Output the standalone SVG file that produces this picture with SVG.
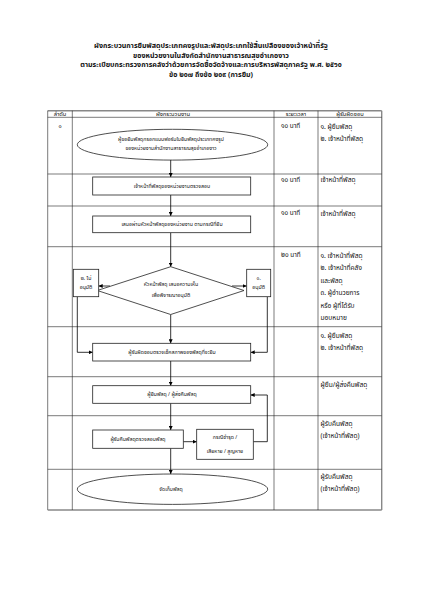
<svg xmlns="http://www.w3.org/2000/svg" width="424" height="600" viewBox="0 0 424 600">
<defs>
<marker id="ah" viewBox="0 0 10 10" refX="10" refY="5" markerWidth="4" markerHeight="4" orient="auto" markerUnits="userSpaceOnUse">
<path d="M0,0 L10,5 L0,10 z" fill="#000"/>
</marker>
<style>
text{font-family:"Noto Sans Thai","Loma","Garuda","Tlwg Typo","DejaVu Sans",sans-serif;fill:#111}
.t{font-size:7.1px;font-weight:bold;text-anchor:middle}
.h{font-size:5.8px;text-anchor:middle}
.f{font-size:5.2px;text-anchor:middle}
.r{font-size:6.6px}
.tm{font-size:6.4px}
.g{fill:none;stroke:#222;stroke-width:0.6}
.ob{fill:none;stroke:#888;stroke-width:1.4}
.sh{fill:#fff;stroke:#222;stroke-width:0.8}
.ca{fill:none;stroke:#000;stroke-width:0.8;marker-end:url(#ah)}
</style>
</defs>
<rect width="424" height="600" fill="#fff"/>
<g id="title">
<text class="t" x="211" y="47.5">ผังกระบวนการยืมพัสดุประเภทคงรูปและพัสดุประเภทใช้สิ้นเปลืองของเจ้าหน้าที่รัฐ</text>
<text class="t" x="211" y="57.5">ของหน่วยงานในสังกัดสำนักงานสาธารณสุขอำเภองาว</text>
<text class="t" x="211" y="67">ตามระเบียบกระทรวงการคลังว่าด้วยการจัดซื้อจัดจ้างและการบริหารพัสดุภาครัฐ พ.ศ. ๒๕๖๐</text>
<text class="t" x="211" y="76.5">ข้อ ๒๐๗ ถึงข้อ ๒๐๙ (การยืม)</text>
</g>
<g id="table">
<line class="ob" x1="47.7" y1="110.7" x2="381.7" y2="110.7"/>
<line class="g" x1="47.7" y1="110.7" x2="47.7" y2="510"/>
<line class="ob" x1="381.7" y1="110.7" x2="381.7" y2="510"/>
<line class="ob" x1="47.7" y1="510" x2="381.7" y2="510"/>
<line class="g" x1="72.3" y1="110.7" x2="72.3" y2="510"/>
<line class="g" x1="274" y1="110.7" x2="274" y2="510"/>
<line class="g" x1="318" y1="110.7" x2="318" y2="510"/>
<line class="g" x1="47.7" y1="117.3" x2="381.7" y2="117.3"/>
<line class="g" x1="47.7" y1="174" x2="381.7" y2="174"/>
<line class="g" x1="47.7" y1="206" x2="381.7" y2="206"/>
<line class="g" x1="47.7" y1="246.7" x2="381.7" y2="246.7"/>
<line class="g" x1="47.7" y1="326.7" x2="381.7" y2="326.7"/>
<line class="g" x1="47.7" y1="376.7" x2="381.7" y2="376.7"/>
<line class="g" x1="47.7" y1="415.7" x2="381.7" y2="415.7"/>
<line class="g" x1="47.7" y1="469.3" x2="381.7" y2="469.3"/>
<text class="h" x="60" y="116">ลำดับ</text>
<text class="h" x="173" y="116">ผังกระบวนงาน</text>
<text class="h" x="296" y="116">ระยะเวลา</text>
<text class="h" x="350" y="116">ผู้รับผิดชอบ</text>
<text class="h" x="60" y="128">๑</text>
<text class="tm" x="281" y="128">๑๐ นาที</text>
<text class="tm" x="281" y="181.5">๑๐ นาที</text>
<text class="tm" x="281" y="215">๑๐ นาที</text>
<text class="tm" x="281" y="257">๒๐ นาที</text>
<text class="r" x="320.5" y="128.5">๑. ผู้ยืมพัสดุ</text>
<text class="r" x="320.5" y="141">๒. เจ้าหน้าที่พัสดุ</text>
<text class="r" x="320.5" y="182">เจ้าหน้าที่พัสดุ</text>
<text class="r" x="320.5" y="215.5">เจ้าหน้าที่พัสดุ</text>
<text class="r" x="320.5" y="257.5">๑. เจ้าหน้าที่พัสดุ</text>
<text class="r" x="320.5" y="270">๒. เจ้าหน้าที่คลัง</text>
<text class="r" x="320.5" y="282.5">และพัสดุ</text>
<text class="r" x="320.5" y="295">๓. ผู้อำนวยการ</text>
<text class="r" x="320.5" y="307.5">หรือ ผู้ที่ได้รับ</text>
<text class="r" x="320.5" y="320">มอบหมาย</text>
<text class="r" x="320.5" y="337.5">๑. ผู้ยืมพัสดุ</text>
<text class="r" x="320.5" y="350">๒. เจ้าหน้าที่พัสดุ</text>
<text class="r" x="320.5" y="386.5">ผู้ยืม/ผู้ส่งคืนพัสดุ</text>
<text class="r" x="320.5" y="425.5">ผู้รับคืนพัสดุ</text>
<text class="r" x="320.5" y="438">(เจ้าหน้าที่พัสดุ)</text>
<text class="r" x="320.5" y="478.5">ผู้รับคืนพัสดุ</text>
<text class="r" x="320.5" y="491">(เจ้าหน้าที่พัสดุ)</text>
</g>
<g id="connectors">
<line class="ca" x1="170.7" y1="160" x2="170.7" y2="177"/>
<line class="ca" x1="170.7" y1="195" x2="170.7" y2="216"/>
<line class="ca" x1="170.7" y1="232.7" x2="170.7" y2="266.7"/>
<line class="ca" x1="110" y1="286" x2="98.7" y2="286"/>
<line class="ca" x1="232" y1="286" x2="246.7" y2="286"/>
<polyline class="ca" points="77.3,296.7 77.3,352.3 92.7,352.3"/>
<polyline class="ca" points="267.3,296.7 267.3,352.3 250.7,352.3"/>
<line class="ca" x1="170.7" y1="314.5" x2="170.7" y2="343.3"/>
<line class="ca" x1="170.7" y1="361" x2="170.7" y2="385.7"/>
<line class="ca" x1="170.7" y1="403.3" x2="170.7" y2="430"/>
<line class="ca" x1="183.3" y1="441.7" x2="196.7" y2="441.7"/>
<polyline class="ca" points="253.3,441.7 267.3,441.7 267.3,395 250.7,395"/>
<line class="ca" x1="170.7" y1="448.3" x2="170.7" y2="474"/>
</g>
<g id="n1">
<ellipse class="sh" cx="172.5" cy="144.7" rx="95.2" ry="15.4"/>
<text class="f" x="171" y="141">ผู้ขอยืมพัสดุกรอกแบบฟอร์มใบยืมพัสดุประเภทคงรูป</text>
<text class="f" x="171" y="150">ของหน่วยงานสำนักงานสาธารณสุขอำเภองาว</text>
</g>
<g id="n2">
<rect class="sh" x="92.7" y="177" width="158" height="18"/>
<text class="f" x="172" y="188">เจ้าหน้าที่พัสดุของหน่วยงานตรวจสอบ</text>
</g>
<g id="n3">
<rect class="sh" x="92.7" y="216" width="158" height="16.7"/>
<text class="f" x="172" y="226">เสนอผ่านหัวหน้าพัสดุของหน่วยงาน ตามกรณีที่ยืม</text>
</g>
<g id="n4">
<polygon class="sh" points="170.7,266.7 244,290.5 170.7,314.5 97.3,290.5"/>
<text class="f" x="171" y="286">หัวหน้าพัสดุ เสนอความเห็น</text>
<text class="f" x="171" y="296.5">เพื่อพิจารณาอนุมัติ</text>
</g>
<g id="n5">
<rect class="sh" x="73.3" y="269.3" width="25.4" height="27.4"/>
<text class="f" x="86" y="280">๒. ไม่</text>
<text class="f" x="86" y="288.5">อนุมัติ</text>
</g>
<g id="n6">
<rect class="sh" x="246.7" y="269.3" width="24" height="27.4"/>
<text class="f" x="258.7" y="280">๑.</text>
<text class="f" x="258.7" y="288.5">อนุมัติ</text>
</g>
<g id="n7">
<rect class="sh" x="92.7" y="343.3" width="158" height="17.7"/>
<text class="f" x="172" y="353.8">ผู้รับผิดชอบตรวจเช็คสภาพของพัสดุที่จะยืม</text>
</g>
<g id="n8">
<rect class="sh" x="92.7" y="385.7" width="158" height="17.6"/>
<text class="f" x="172" y="396.3">ผู้ยืมพัสดุ / ผู้ส่งคืนพัสดุ</text>
</g>
<g id="n9">
<rect class="sh" x="92.7" y="430" width="90.6" height="18.3"/>
<text class="f" x="138" y="441.2">ผู้รับคืนพัสดุตรวจสอบพัสดุ</text>
</g>
<g id="n10">
<rect class="sh" x="196.7" y="429.3" width="56.6" height="30"/>
<text class="f" x="225" y="439">กรณีชำรุด /</text>
<text class="f" x="225" y="453">เสียหาย / สูญหาย</text>
</g>
<g id="n11">
<ellipse class="sh" cx="172.5" cy="489.2" rx="95.2" ry="15.2"/>
<text class="f" x="171" y="491">จัดเก็บพัสดุ</text>
</g>
</svg>
